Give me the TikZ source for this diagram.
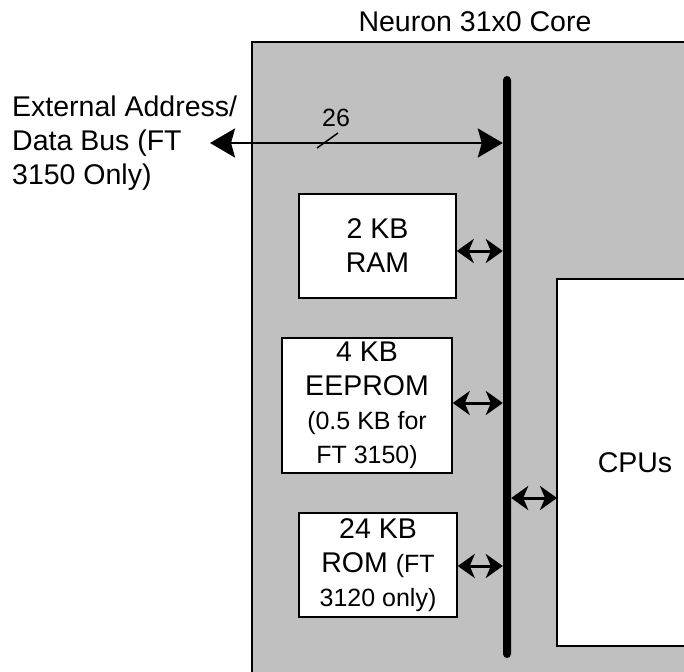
\documentclass[tikz,border=0pt]{standalone}
\usepackage{fontspec}
\setmainfont{Liberation Sans}
\usepackage{xcolor}
\usepackage{tikz}
\usetikzlibrary{arrows.meta, positioning}

\definecolor{coregrey}{RGB}{192,192,192}
\newcommand{\notesize}{\fontsize{25}{32}\selectfont}

\begin{document}
\begin{tikzpicture}[x=1pt, y=-1pt,
    every node/.style={font=\fontsize{28.5}{34}\selectfont},
    block/.style={draw, line width=1.5pt, fill=white, align=center, inner sep=0pt},
    dblarrow/.style={line width=3pt, {Stealth[length=17pt,width=24pt,inset=5pt]}-{Stealth[length=17pt,width=24pt,inset=5pt]}},
    extarrow/.style={line width=2.5pt, {Stealth[length=25pt,width=29pt,inset=4pt]}-{Stealth[length=25pt,width=29pt,inset=4pt]}}]
\useasboundingbox (0,0) rectangle (684,671);

\begin{scope}
\clip (0,0) rectangle (684,671);
% Core area
\draw[line width=1.5pt, fill=coregrey] (252,42) rectangle (720,700);

% Internal bus
\node[fill=black, rounded corners=4pt, inner sep=0pt, minimum width=8pt, minimum height=582pt] (bus) at (507,367) {};

% Memory blocks and CPUs
\node[block, minimum width=157pt, minimum height=104pt] (ram) at (377.5,246) {2 KB\\RAM};
\node[block, minimum width=170pt, minimum height=135pt] (eeprom) at (367,405.5) {4 KB\\EEPROM\\{\notesize (0.5 KB for}\\{\notesize FT 3150)}};
\node[block, minimum width=158pt, minimum height=104pt] (rom) at (378,565) {24 KB\\ROM {\notesize (FT}\\{\notesize 3120 only)}};
\node[block, minimum width=156pt, minimum height=367pt] (cpu) at (635,462.5) {CPUs};

\foreach \m/\dy in {ram/-5, eeprom/2.5, rom/-1} {
    \draw[dblarrow] ([yshift=\dy pt]\m.east) -- ([yshift=\dy pt]\m.east -| bus.west);
}
\coordinate (cpuport) at (557,498);
\draw[dblarrow] (cpuport -| bus.east) -- (cpuport);
\end{scope}

% External bus
\coordinate (extend) at (210,143);
\draw[extarrow] (extend) -- (extend -| bus.west);
\draw[line width=1.5pt] (317,148) -- (338,133);
\node[font=\notesize] (buswidth) at (336,118) {26};
\node[anchor=west, align=left, inner sep=0pt] (extlabel) at (12,143) {External Address/\\Data Bus (FT\\3150 Only)};

\node (title) at (475,22) {Neuron 31x0 Core};
\end{tikzpicture}
\end{document}
